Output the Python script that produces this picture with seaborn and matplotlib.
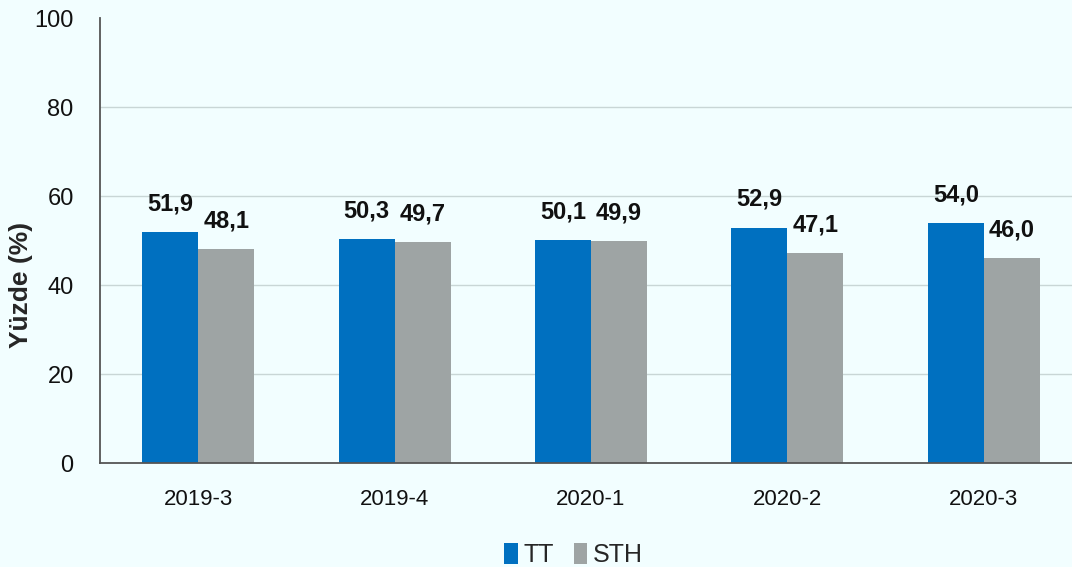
import matplotlib
matplotlib.use("Agg")
import matplotlib.pyplot as plt
import seaborn as sns
import pandas as pd

# Data
periods = ["2019-3", "2019-4", "2020-1", "2020-2", "2020-3"]
tt_values = [51.9, 50.3, 50.1, 52.9, 54.0]
sth_values = [48.1, 49.7, 49.9, 47.1, 46.0]
series_names = ["TT", "STH"]
y_ticks = [0, 20, 40, 60, 80, 100]

df = pd.DataFrame({
    "Dönem": periods * 2,
    "Yüzde": tt_values + sth_values,
    "Seri": [series_names[0]] * len(periods) + [series_names[1]] * len(periods),
})

bg = "#F2FEFF"
sns.set_style("white")
plt.rcParams["font.family"] = ["Liberation Sans", "DejaVu Sans"]

fig = plt.figure(figsize=(10.72, 5.67), dpi=100, facecolor=bg)
ax = fig.add_axes([0.0933, 0.1834, 0.916, 0.7848])
ax.set_facecolor(bg)

sns.barplot(data=df, x="Dönem", y="Yüzde", hue="Seri", hue_order=series_names,
            palette=["#0070C0", "#9EA4A4"], width=0.57, saturation=1,
            linewidth=0, edgecolor="none", ax=ax, zorder=2)

# data labels with comma decimals
for cont in ax.containers:
    ax.bar_label(cont, labels=[f"{b.get_height():.1f}".replace(".", ",") for b in cont],
                 padding=12, fontsize=17, fontweight="bold", color="#111111")

ax.set_ylim(0, 100)
ax.set_xlim(-0.5, len(periods) - 0.5)
ax.set_yticks(y_ticks)
for y in y_ticks[1:-1]:
    ax.axhline(y, color="#C9D6D6", lw=1, zorder=0)

ax.set_xlabel("")
ax.set_ylabel("Yüzde (%)", fontsize=19, fontweight="bold")
ax.yaxis.set_label_coords(-0.068, 0.40)
ax.tick_params(axis="y", labelsize=17, direction="out", length=7, width=1,
               color="#444444", pad=12, labelcolor="#111111")
ax.tick_params(axis="x", labelsize=16, length=0, pad=19, labelcolor="#111111")
ax.set_xticks([i + 0.5 for i in range(-1, len(periods))], minor=True)
ax.tick_params(axis="x", which="minor", direction="out", length=8, width=1, color="#444444")

for side in ["top", "right"]:
    ax.spines[side].set_visible(False)
for side in ["left", "bottom"]:
    ax.spines[side].set_color("#555555")
    ax.spines[side].set_linewidth(1.3)

handles, labels = ax.get_legend_handles_labels()
ax.legend(handles, labels, loc="lower center", bbox_to_anchor=(0.482, -0.285),
          bbox_transform=ax.transAxes, ncol=2, frameon=False, fontsize=18,
          handlelength=0.55, handleheight=0.9, handletextpad=0.2, columnspacing=0.8)

fig.savefig("out.png", dpi=100, facecolor=bg)
